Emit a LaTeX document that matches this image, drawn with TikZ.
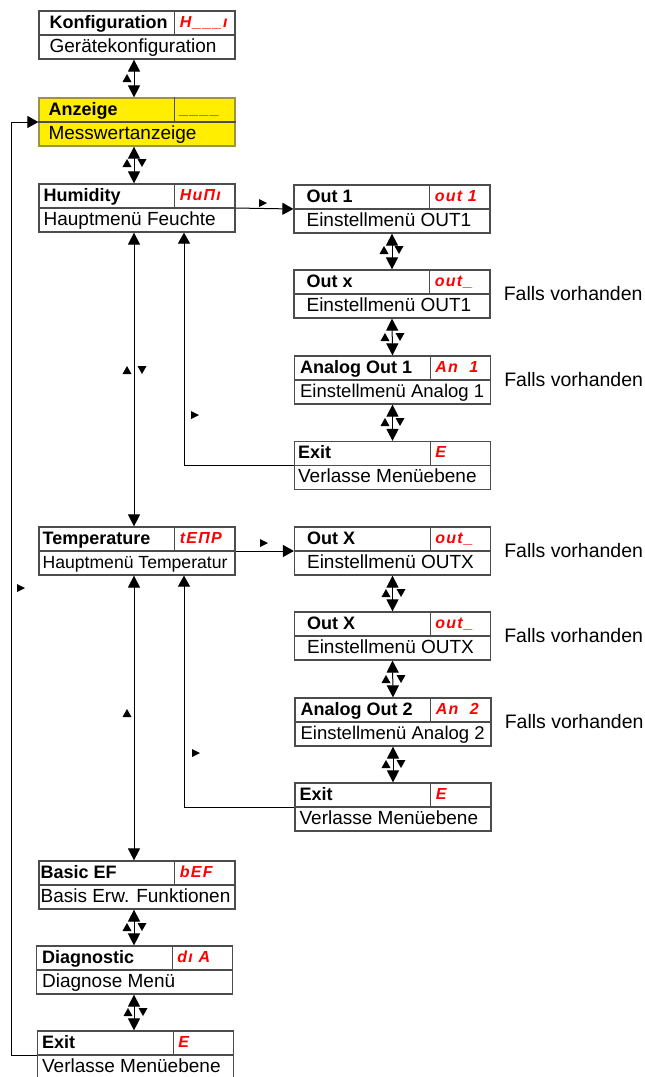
\documentclass[tikz,border=0pt]{standalone}
\usepackage{fontspec}
\setmainfont{Liberation Sans}
\newfontfamily\segfont[LetterSpace=8]{Liberation Sans}
\usetikzlibrary{arrows.meta}

\definecolor{segred}{RGB}{255,0,0}
\definecolor{anzyellow}{RGB}{255,238,0}

\tikzset{
  boxfrm/.style={draw=black!70, line width=1.2pt, fill=white,
    minimum width=196pt, minimum height=48pt, inner sep=0pt},
  boxline/.style={draw=black!70, line width=1.2pt},
  titletxt/.style={anchor=base west, inner sep=0pt,
    font=\fontsize{18}{18}\selectfont\bfseries},
  desctxt/.style={anchor=base west, inner sep=0pt,
    font=\fontsize{19}{19}\selectfont},
  codetxt/.style={anchor=base west, inner sep=0pt, text=segred,
    font=\fontsize{16}{16}\segfont\bfseries\itshape},
  notetxt/.style={anchor=west, inner sep=0pt,
    font=\fontsize{19.5}{19.5}\selectfont},
  dbl/.style={line width=1pt,
    {Triangle[length=12pt,width=12pt]}-{Triangle[length=12pt,width=12pt]}},
  sgl/.style={line width=1pt, -{Triangle[length=11pt,width=12pt]}},
  keyup/.pic={\fill (-4.5,4) -- (4.5,4) -- (0,-4) -- cycle;},
  keydown/.pic={\fill (-4.5,-4) -- (4.5,-4) -- (0,4) -- cycle;},
  keyright/.pic={\fill (-4,-4) -- (-4,4) -- (4,0) -- cycle;},
}

\newcommand{\narrow}[2][17.6]{{\fontsize{#1}{18}\selectfont #2}}

% name, centre, text offset, title, code, description, box style
\newcommand{\menubox}[7]{%
  \node[boxfrm,#7] (#1) at (#2) {};
  \draw[boxline] (#1.west) -- (#1.east);
  \draw[boxline] ([xshift=-61pt]#1.north east) -- ([xshift=-61pt]#1.east);
  \node[titletxt] (#1-title) at ([shift={(#3,18)}]#1.north west) {#4};
  \node[codetxt] (#1-code) at ([shift={(-56,17)}]#1.north east) {#5};
  \node[desctxt] (#1-desc) at ([shift={(#3,42)}]#1.north west) {#6};
}

\begin{document}
\begin{tikzpicture}[x=1pt,y=-1pt]
    \useasboundingbox (0,0) rectangle (645,1077);
    \fill[white] (0,0) rectangle (645,1077);

    \menubox{konfig}{137,35}{11}{Konfiguration}{H\_\_\_ı}{Gerätekonfiguration}{}
    \menubox{anz}{137,122}{10}{Anzeige}{\_\_\_\_}{Messwertanzeige}{fill=anzyellow, draw=black!45!yellow}
    \menubox{hum}{137,208}{5}{Humidity}{HuΠı}{Hauptmenü Feuchte}{}
    \menubox{temp}{137,551}{4}{Temperature}{tEΠP}{\narrow{Hauptmenü Temperatur}}{}
    \menubox{basic}{137,885}{2}{Basic EF}{bEF}{Basis Erw. Funktionen}{}
    \menubox{diag}{134.5,970}{6}{Diagnostic}{dı A}{Diagnose Menü}{}
    \menubox{mexit}{135.5,1055}{5}{Exit}{E}{Verlasse Menüebene}{}

    \menubox{out1}{392,209}{13}{Out 1}{out 1}{Einstellmenü OUT1}{}
    \menubox{outx}{392,294}{13}{Out x}{out\_}{Einstellmenü OUT1}{}
    \menubox{an1}{392.5,380}{6}{Analog Out 1}{An~~1}{\narrow[18.5]{Einstellmenü Analog 1}}{}
    \menubox{hexit}{392.5,465.5}{4}{Exit}{E}{Verlasse Menüebene}{}

    \menubox{toutx}{392.5,551}{13}{Out X}{out\_}{Einstellmenü OUTX}{}
    \menubox{toutxx}{392.5,636}{13}{Out X}{out\_}{Einstellmenü OUTX}{}
    \menubox{an2}{393,722}{6}{Analog Out 2}{An~~2}{\narrow[18.5]{Einstellmenü Analog 2}}{}
    \menubox{texit}{393,807}{5}{Exit}{E}{Verlasse Menüebene}{}

    \node[notetxt] (fv1) at ([xshift=13pt]outx.east) {Falls vorhanden};
    \node[notetxt] (fv2) at ([xshift=13pt]an1.east) {Falls vorhanden};
    \node[notetxt] (fv3) at ([xshift=13pt]toutx.east) {Falls vorhanden};
    \node[notetxt] (fv4) at ([xshift=13pt]toutxx.east) {Falls vorhanden};
    \node[notetxt] (fv5) at ([xshift=13pt]an2.east) {Falls vorhanden};

    \coordinate (colA) at (134,0);
    \coordinate (colB) at (184,0);
    \coordinate (colL) at (11,0);

    \draw[dbl] (konfig.south -| colA) -- (anz.north -| colA);
    \draw[dbl] (anz.south -| colA) -- (hum.north -| colA);
    \draw[dbl] (hum.south -| colA) -- (temp.north -| colA);
    \draw[dbl] (temp.south -| colA) -- (basic.north -| colA);
    \draw[dbl] (basic.south -| colA) -- (diag.north -| colA);
    \draw[dbl] (diag.south -| colA) -- (mexit.north -| colA);

    \draw[dbl] (out1.south) -- (outx.north);
    \draw[dbl] (outx.south) -- (an1.north);
    \draw[dbl] (an1.south) -- (hexit.north);
    \draw[dbl] (toutx.south) -- (toutxx.north);
    \draw[dbl] (toutxx.south) -- (an2.north);
    \draw[dbl] (an2.south) -- (texit.north);

    \draw[sgl] (hum.east) -- (out1.west);
    \draw[sgl] (temp.east) -- (toutx.west);
    \draw[sgl] (hexit.west) -| (hum.south -| colB);
    \draw[sgl] (texit.west) -| (temp.south -| colB);
    \draw[sgl] (mexit.west) -| (colL |- anz.west) -- (anz.west);

    \foreach \x/\y in {127/78, 127/163, 127/370, 127/713, 127/927, 128/1012,
                      384/250, 385/337, 385/422, 386/593, 386/679, 386/764}{
      \pic at (\x,\y) {keyup};
    }
    \foreach \x/\y in {142/163, 142/370, 142/927, 143/1012,
                      399/250, 400/337, 400/422, 401/593, 401/679, 401/764}{
      \pic at (\x,\y) {keydown};
    }
    \foreach \x/\y in {263/203, 195/415, 264/543, 21/588, 196/753}{
      \pic at (\x,\y) {keyright};
    }
\end{tikzpicture}
\end{document}
